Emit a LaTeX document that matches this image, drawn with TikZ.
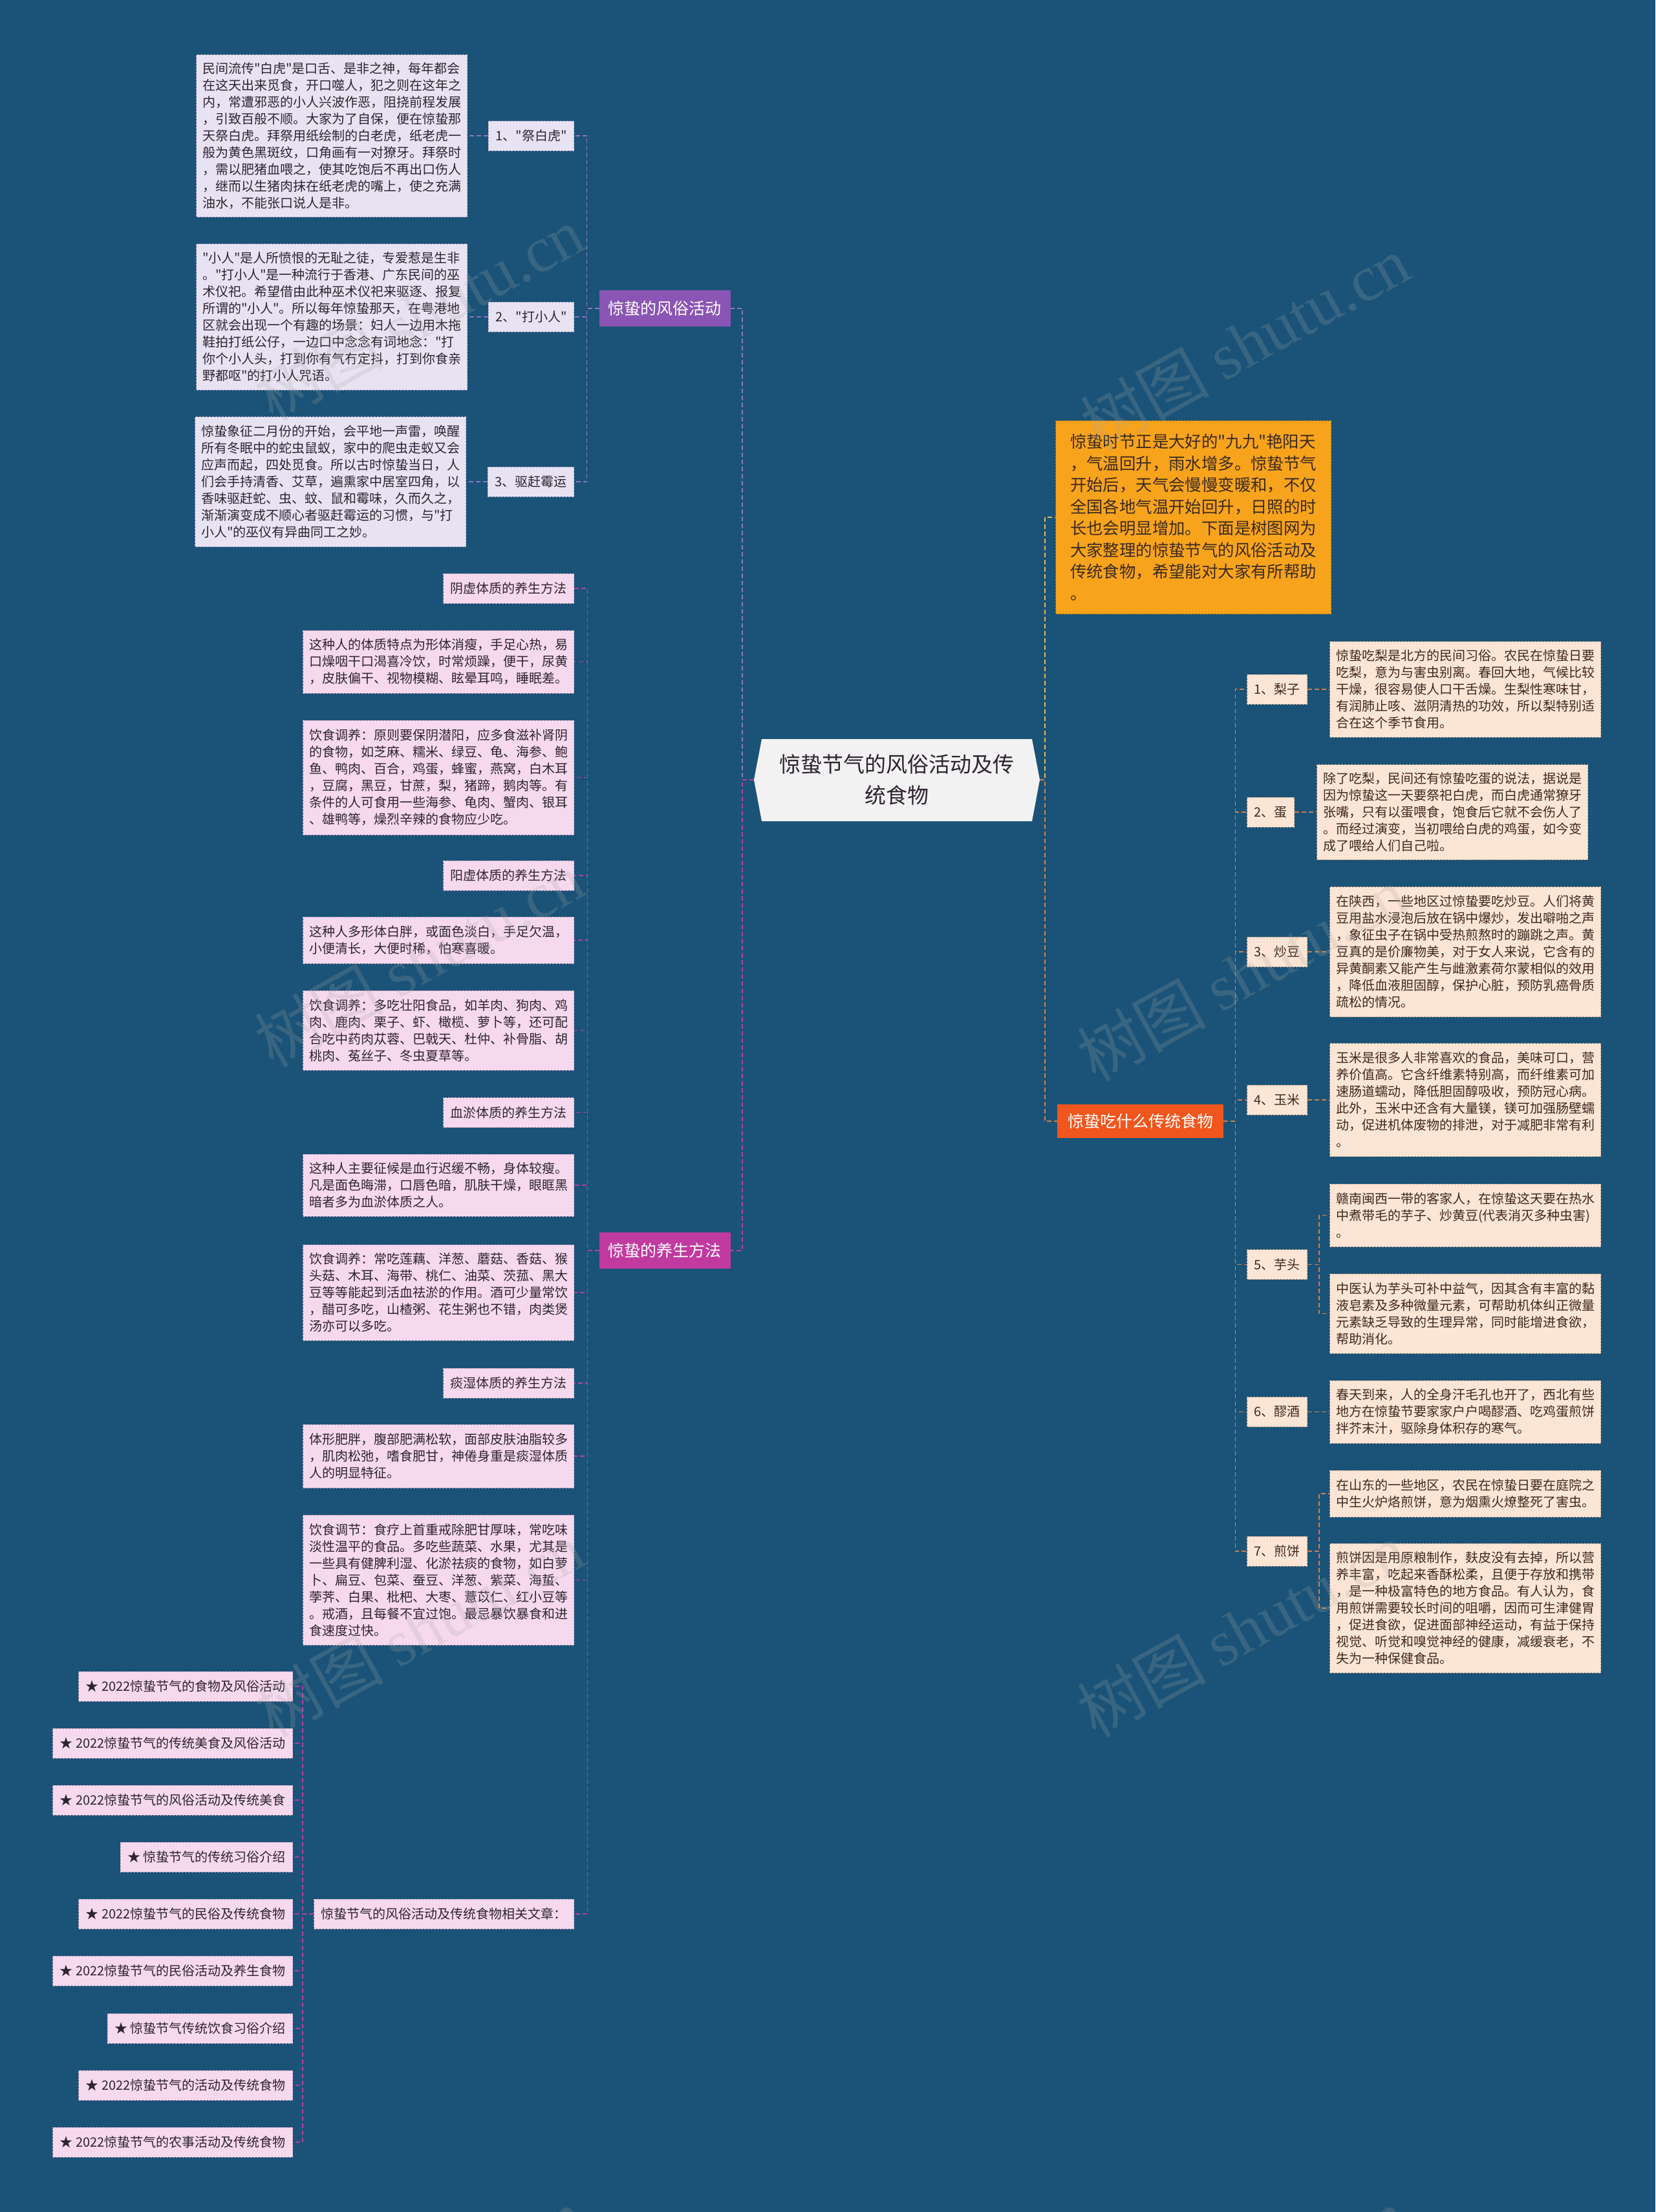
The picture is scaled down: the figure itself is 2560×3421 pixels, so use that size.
\documentclass[tikz,border=0pt]{standalone}
\usepackage{fontspec}
\setmainfont{Noto Sans CJK SC}[Ligatures=TeXOff]
\newfontfamily\wmserif{Liberation Serif}
\usetikzlibrary{calc}
\definecolor{bg}{HTML}{1A5377}
\definecolor{lav}{HTML}{E8E3F3}
\definecolor{lavB}{HTML}{A99FC6}
\definecolor{pnk}{HTML}{F6D9EE}
\definecolor{pnkB}{HTML}{C9A2BE}
\definecolor{pch}{HTML}{FDE5D5}
\definecolor{pchB}{HTML}{C8A48E}
\definecolor{txt}{HTML}{2E2430}
\definecolor{txtF}{HTML}{3A2A20}
\definecolor{brPur}{HTML}{8A55B4}
\definecolor{brMag}{HTML}{C13A9F}
\definecolor{brOrg}{HTML}{F0561E}
\definecolor{intro}{HTML}{F7A31C}
\definecolor{lnPur}{HTML}{8E73C8}
\definecolor{lnMag}{HTML}{B53FA2}
\definecolor{lnFood}{HTML}{D0804C}
\definecolor{lnInt}{HTML}{E8B84A}
\definecolor{rootF}{HTML}{F2F2F2}
\tikzset{
  base/.style={rectangle, font=\fontsize{20}{26}\selectfont, line width=1pt, dash pattern=on 3pt off 2pt},
  lbL/.style={base, fill=lav, draw=lavB, text=txt, inner xsep=11pt, inner ysep=0pt, minimum height=46pt},
  lbP/.style={base, fill=pnk, draw=pnkB, text=txt, inner xsep=11pt, inner ysep=0pt, minimum height=46pt},
  lbF/.style={base, fill=pch, draw=pchB, text=txtF, inner xsep=11pt, inner ysep=0pt, minimum height=46pt},
  txL/.style={lbL, align=left, text width=400pt, inner xsep=9.5pt},
  txP/.style={lbP, align=left, text width=400pt, inner xsep=9.5pt},
  txF/.style={lbF, align=left, text width=400pt, inner xsep=9.5pt},
  branch/.style={rectangle, font=\fontsize{25}{30}\selectfont, text=white, inner xsep=14pt, minimum height=56pt},
  conn/.style={line width=1.6pt, dash pattern=on 7pt off 4pt},
  cPur/.style={conn, draw=lnPur},
  cMag/.style={conn, draw=lnMag},
  cFood/.style={conn, draw=lnFood},
  cInt/.style={conn, draw=lnInt},
  wm/.style={font=\fontsize{100}{100}\selectfont, text=gray!70, opacity=0.22, rotate=29}
}
\begin{document}
\begin{tikzpicture}[x=1pt,y=-1pt]
\useasboundingbox (0,0) rectangle (2560,3421);
\fill[bg] (0,0) rectangle (2560,3421);

% root
\fill[rootF] (1166,1206) -- (1178,1143) -- (1596,1143) -- (1608,1206) -- (1596,1270) -- (1178,1270) -- cycle;
\node[font=\fontsize{33}{48}\selectfont, text=txt, align=center, minimum width=442pt, minimum height=127pt, inner sep=0pt] (root) at (1387,1206) {惊蛰节气的风俗活动及传\\统食物};

% branches
\node[branch, fill=brPur, anchor=east] (fs) at (1130,477) {惊蛰的风俗活动};
\node[branch, fill=brMag, anchor=east] (ys) at (1130,1934) {惊蛰的养生方法};
\node[branch, fill=brOrg, anchor=west, inner xsep=16pt, minimum height=52pt] (food) at (1635,1734) {惊蛰吃什么传统食物};
\node[rectangle, fill=intro, draw=intro!70!black, line width=1pt, dash pattern=on 3pt off 2pt, text=txtF, font=\fontsize{25.4}{33.5}\selectfont, align=left, text width=381pt, inner xsep=22.5pt, minimum height=299pt, anchor=west] (intro) at (1632,800) {惊蛰时节正是大好的"九九"艳阳天\\，气温回升，雨水增多。惊蛰节气\\开始后，天气会慢慢变暖和，不仅\\全国各地气温开始回升，日照的时\\长也会明显增加。下面是树图网为\\大家整理的惊蛰节气的风俗活动及\\传统食物，希望能对大家有所帮助\\。};

% ---- 风俗活动
\node[lbL, anchor=east] (f1l) at (888,210) {1、"祭白虎"};
\node[txL, anchor=east, minimum height=251pt] (f1t) at (723,210) {民间流传"白虎"是口舌、是非之神，每年都会\\在这天出来觅食，开口噬人，犯之则在这年之\\内，常遭邪恶的小人兴波作恶，阻挠前程发展\\，引致百般不顺。大家为了自保，便在惊蛰那\\天祭白虎。拜祭用纸绘制的白老虎，纸老虎一\\般为黄色黑斑纹，口角画有一对獠牙。拜祭时\\，需以肥猪血喂之，使其吃饱后不再出口伤人\\，继而以生猪肉抹在纸老虎的嘴上，使之充满\\油水，不能张口说人是非。};
\node[lbL, anchor=east] (f2l) at (888,490) {2、"打小人"};
\node[txL, anchor=east, minimum height=226pt] (f2t) at (723,490) {"小人"是人所愤恨的无耻之徒，专爱惹是生非\\。"打小人"是一种流行于香港、广东民间的巫\\术仪祀。希望借由此种巫术仪祀来驱逐、报复\\所谓的"小人"。所以每年惊蛰那天，在粤港地\\区就会出现一个有趣的场景：妇人一边用木拖\\鞋拍打纸公仔，一边口中念念有词地念："打\\你个小人头，打到你有气冇定抖，打到你食亲\\野都呕"的打小人咒语。};
\node[lbL, anchor=east] (f3l) at (888,745) {3、驱赶霉运};
\node[txL, anchor=east, minimum height=201pt] (f3t) at (721,745) {惊蛰象征二月份的开始，会平地一声雷，唤醒\\所有冬眠中的蛇虫鼠蚁，家中的爬虫走蚁又会\\应声而起，四处觅食。所以古时惊蛰当日，人\\们会手持清香、艾草，遍熏家中居室四角，以\\香味驱赶蛇、虫、蚊、鼠和霉味，久而久之，\\渐渐演变成不顺心者驱赶霉运的习惯，与"打\\小人"的巫仪有异曲同工之妙。};

% ---- 养生方法
\node[lbP, anchor=east] (y1) at (888,910) {阴虚体质的养生方法};
\node[txP, anchor=east, minimum height=97pt] (y2) at (888,1023.5) {这种人的体质特点为形体消瘦，手足心热，易\\口燥咽干口渴喜冷饮，时常烦躁，便干，尿黄\\，皮肤偏干、视物模糊、眩晕耳鸣，睡眠差。};
\node[txP, anchor=east, minimum height=177pt] (y3) at (888,1202.5) {饮食调养：原则要保阴潜阳，应多食滋补肾阴\\的食物，如芝麻、糯米、绿豆、龟、海参、鲍\\鱼、鸭肉、百合，鸡蛋，蜂蜜，燕窝，白木耳\\，豆腐，黑豆，甘蔗，梨，猪蹄，鹅肉等。有\\条件的人可食用一些海参、龟肉、蟹肉、银耳\\、雄鸭等，燥烈辛辣的食物应少吃。};
\node[lbP, anchor=east] (y4) at (888,1354) {阳虚体质的养生方法};
\node[txP, anchor=east, minimum height=72pt] (y5) at (888,1454) {这种人多形体白胖，或面色淡白，手足欠温，\\小便清长，大便时稀，怕寒喜暖。};
\node[txP, anchor=east, minimum height=123pt] (y6) at (888,1593.5) {饮食调养：多吃壮阳食品，如羊肉、狗肉、鸡\\肉、鹿肉、栗子、虾、橄榄、萝卜等，还可配\\合吃中药肉苁蓉、巴戟天、杜仲、补骨脂、胡\\桃肉、菟丝子、冬虫夏草等。};
\node[lbP, anchor=east] (y7) at (888,1720.5) {血淤体质的养生方法};
\node[txP, anchor=east, minimum height=96pt] (y8) at (888,1833) {这种人主要征候是血行迟缓不畅，身体较瘦。\\凡是面色晦滞，口唇色暗，肌肤干燥，眼眶黑\\暗者多为血淤体质之人。};
\node[txP, anchor=east, minimum height=148pt] (y9) at (888,1999) {饮食调养：常吃莲藕、洋葱、蘑菇、香菇、猴\\头菇、木耳、海带、桃仁、油菜、茨菰、黑大\\豆等等能起到活血祛淤的作用。酒可少量常饮\\，醋可多吃，山楂粥、花生粥也不错，肉类煲\\汤亦可以多吃。};
\node[lbP, anchor=east] (y10) at (888,2139) {痰湿体质的养生方法};
\node[txP, anchor=east, minimum height=98pt] (y11) at (888,2252) {体形肥胖，腹部肥满松软，面部皮肤油脂较多\\，肌肉松弛，嗜食肥甘，神倦身重是痰湿体质\\人的明显特征。};
\node[txP, anchor=east, minimum height=201pt] (y12) at (888,2443.5) {饮食调节：食疗上首重戒除肥甘厚味，常吃味\\淡性温平的食品。多吃些蔬菜、水果，尤其是\\一些具有健脾利湿、化淤祛痰的食物，如白萝\\卜、扁豆、包菜、蚕豆、洋葱、紫菜、海蜇、\\荸荠、白果、枇杷、大枣、薏苡仁、红小豆等\\。戒酒，且每餐不宜过饱。最忌暴饮暴食和进\\食速度过快。};
\node[lbP, anchor=east] (rel) at (888,2960) {惊蛰节气的风俗活动及传统食物相关文章：};

% links
\node[lbP, anchor=east] (k1) at (453,2608) {★ 2022惊蛰节气的食物及风俗活动};
\node[lbP, anchor=east] (k2) at (453,2696) {★ 2022惊蛰节气的传统美食及风俗活动};
\node[lbP, anchor=east] (k3) at (453,2784) {★ 2022惊蛰节气的风俗活动及传统美食};
\node[lbP, anchor=east] (k4) at (453,2872) {★ 惊蛰节气的传统习俗介绍};
\node[lbP, anchor=east] (k5) at (453,2960) {★ 2022惊蛰节气的民俗及传统食物};
\node[lbP, anchor=east] (k6) at (453,3048) {★ 2022惊蛰节气的民俗活动及养生食物};
\node[lbP, anchor=east] (k7) at (453,3137) {★ 惊蛰节气传统饮食习俗介绍};
\node[lbP, anchor=east] (k8) at (453,3225) {★ 2022惊蛰节气的活动及传统食物};
\node[lbP, anchor=east] (k9) at (453,3313) {★ 2022惊蛰节气的农事活动及传统食物};

% ---- 传统食物
\node[lbF, anchor=west] (d1l) at (1928,1066) {1、梨子};
\node[txF, anchor=west, minimum height=148pt] (d1t) at (2056,1066) {惊蛰吃梨是北方的民间习俗。农民在惊蛰日要\\吃梨，意为与害虫别离。春回大地，气候比较\\干燥，很容易使人口干舌燥。生梨性寒味甘，\\有润肺止咳、滋阴清热的功效，所以梨特别适\\合在这个季节食用。};
\node[lbF, anchor=west] (d2l) at (1928,1256) {2、蛋};
\node[txF, anchor=west, minimum height=147pt] (d2t) at (2036,1256) {除了吃梨，民间还有惊蛰吃蛋的说法，据说是\\因为惊蛰这一天要祭祀白虎，而白虎通常獠牙\\张嘴，只有以蛋喂食，饱食后它就不会伤人了\\。而经过演变，当初喂给白虎的鸡蛋，如今变\\成了喂给人们自己啦。};
\node[lbF, anchor=west] (d3l) at (1928,1472) {3、炒豆};
\node[txF, anchor=west, minimum height=201pt] (d3t) at (2056,1472) {在陕西，一些地区过惊蛰要吃炒豆。人们将黄\\豆用盐水浸泡后放在锅中爆炒，发出噼啪之声\\，象征虫子在锅中受热煎熬时的蹦跳之声。黄\\豆真的是价廉物美，对于女人来说，它含有的\\异黄酮素又能产生与雌激素荷尔蒙相似的效用\\，降低血液胆固醇，保护心脏，预防乳癌骨质\\疏松的情况。};
\node[lbF, anchor=west] (d4l) at (1928,1701) {4、玉米};
\node[txF, anchor=west, minimum height=175pt] (d4t) at (2056,1701) {玉米是很多人非常喜欢的食品，美味可口，营\\养价值高。它含纤维素特别高，而纤维素可加\\速肠道蠕动，降低胆固醇吸收，预防冠心病。\\此外，玉米中还含有大量镁，镁可加强肠壁蠕\\动，促进机体废物的排泄，对于减肥非常有利\\。};
\node[lbF, anchor=west] (d5l) at (1928,1955.5) {5、芋头};
\node[txF, anchor=west, minimum height=97pt] (d5a) at (2056,1879.5) {赣南闽西一带的客家人，在惊蛰这天要在热水\\中煮带毛的芋子、炒黄豆(代表消灭多种虫害)\\。};
\node[txF, anchor=west, minimum height=123pt] (d5b) at (2056,2031.5) {中医认为芋头可补中益气，因其含有丰富的黏\\液皂素及多种微量元素，可帮助机体纠正微量\\元素缺乏导致的生理异常，同时能增进食欲，\\帮助消化。};
\node[lbF, anchor=west] (d6l) at (1928,2183.5) {6、醪酒};
\node[txF, anchor=west, minimum height=97pt] (d6t) at (2056,2183.5) {春天到来，人的全身汗毛孔也开了，西北有些\\地方在惊蛰节要家家户户喝醪酒、吃鸡蛋煎饼\\拌芥末汁，驱除身体积存的寒气。};
\node[lbF, anchor=west] (d7l) at (1928,2399) {7、煎饼};
\node[txF, anchor=west, minimum height=72pt] (d7a) at (2056,2310) {在山东的一些地区，农民在惊蛰日要在庭院之\\中生火炉烙煎饼，意为烟熏火燎整死了害虫。};
\node[txF, anchor=west, minimum height=200pt] (d7b) at (2056,2487) {煎饼因是用原粮制作，麸皮没有去掉，所以营\\养丰富，吃起来香酥松柔，且便于存放和携带\\，是一种极富特色的地方食品。有人认为，食\\用煎饼需要较长时间的咀嚼，因而可生津健胃\\，促进食欲，促进面部神经运动，有益于保持\\视觉、听觉和嗅觉神经的健康，减缓衰老，不\\失为一种保健食品。};

% ---- connectors
\draw[cPur] (root.west) -- ++(-18,0) |- (fs.east);
\draw[cMag] (root.west) -- ++(-18,0) |- (ys.east);
\draw[cInt] (root.east) -- ++(8,0) |- (intro.west);
\draw[cFood] (root.east) -- ++(8,0) |- (food.west);

\foreach \c in {f1l,f2l,f3l} \draw[cPur] (fs.west) -- ++(-19,0) |- (\c.east);
\draw[cPur] (f1l.west) -- (f1t.east);
\draw[cPur] (f2l.west) -- (f2t.east);
\draw[cPur] (f3l.west) -- (f3t.east);

\foreach \c in {y1,y2,y3,y4,y5,y6,y7,y8,y9,y10,y11,y12,rel} \draw[cMag] (ys.west) -- ++(-18,0) |- (\c.east);
\foreach \c in {k1,k2,k3,k4,k5,k6,k7,k8,k9} \draw[cMag] (rel.west) -- ++(-17,0) |- (\c.east);

\foreach \c in {d1l,d2l,d3l,d4l,d5l,d6l,d7l} \draw[cFood] (food.east) -- ++(18,0) |- (\c.west);
\draw[cFood] (d1l.east) -- (d1t.west);
\draw[cFood] (d2l.east) -- (d2t.west);
\draw[cFood] (d3l.east) -- (d3t.west);
\draw[cFood] (d4l.east) -- (d4t.west);
\draw[cFood] (d6l.east) -- (d6t.west);
\draw[cFood] (d5l.east) -- ++(18,0) |- (d5a.west);
\draw[cFood] (d5l.east) -- ++(18,0) |- (d5b.west);
\draw[cFood] (d7l.east) -- ++(18,0) |- (d7a.west);
\draw[cFood] (d7l.east) -- ++(18,0) |- (d7b.west);

% watermarks
\foreach \p in {(648,485),(1925,530),(648,1484),(1920,1506),(648,2520),(1920,2520),(648,3550),(1920,3550)}
  \node[wm] at \p {树图 {\wmserif shutu.cn}};
\end{tikzpicture}
\end{document}
